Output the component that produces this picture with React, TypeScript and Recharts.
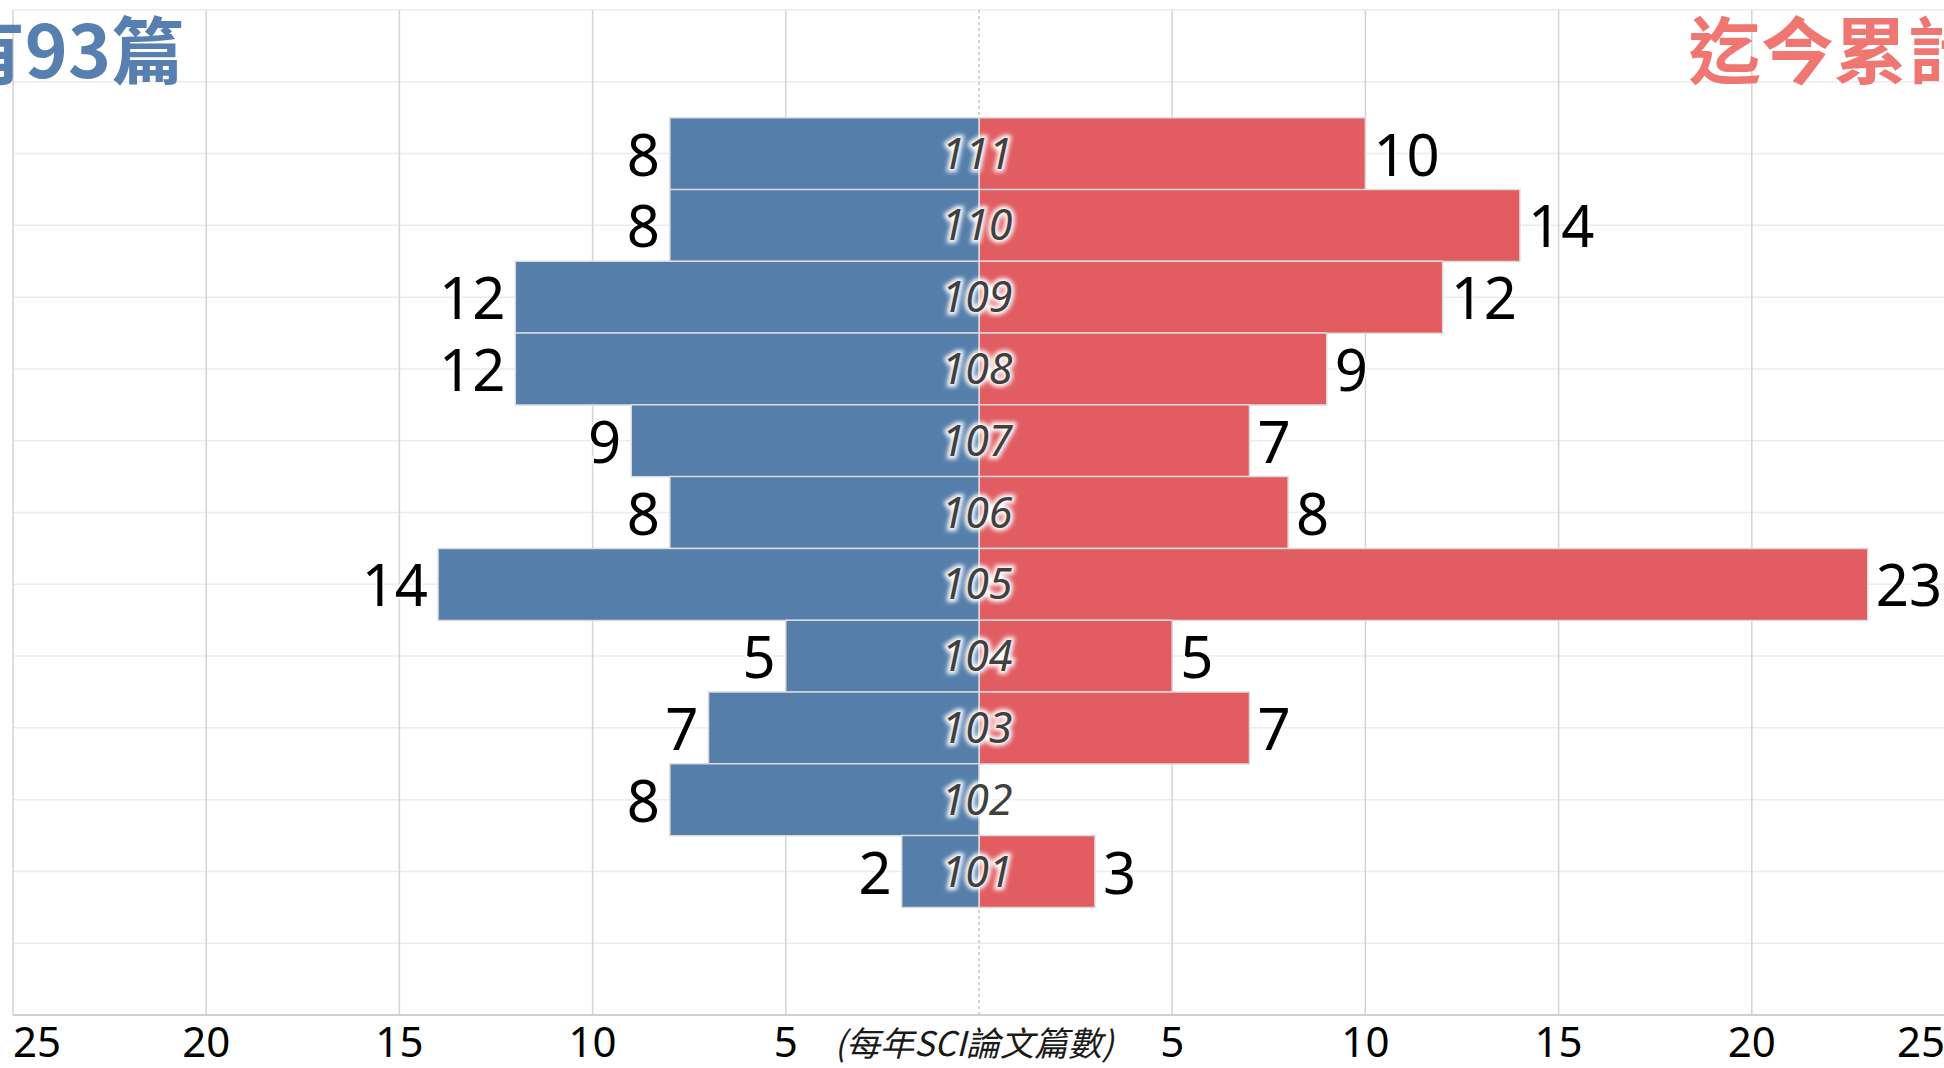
import React from "react";
import { BarChart, Bar, XAxis, YAxis, CartesianGrid, LabelList } from "recharts";

const years = ["111", "110", "109", "108", "107", "106", "105", "104", "103", "102", "101"];
const blueCounts = [8, 8, 12, 12, 9, 8, 14, 5, 7, 8, 2];
const redCounts = [10, 14, 12, 9, 7, 8, 23, 5, 7, 0, 3];
const xTicks = [-25, -20, -15, -10, -5, 0, 5, 10, 15, 20, 25];
const blueTitle = "累計共有93篇";
const redTitle = "迄今累計有98篇";
const axisTitle = "(每年SCI論文篇數)";

const data = years.map((year, i) => ({ year, left: -blueCounts[i], right: redCounts[i] }));

const BLUE = "#557eaa";
const RED = "#e15d62";
const BAND_PAD = 107.7;

const gridX = (vals: number[]) => ({ xAxis, offset }: any) =>
    vals.map((v) =>
        xAxis && typeof xAxis.scale === "function" ? xAxis.scale(v) : offset.left + ((v + 25) / 50) * offset.width
    );

const gridY = ({ offset }: any) => Array.from({ length: 15 }, (_, i) => offset.top + (i * offset.height) / 14);

const BlueValue = (props: any) => {
    const { x, y, width, height, value } = props;
    const left = Math.min(x, x + width);
    return (
        <text x={left - 10} y={y + height / 2 + 22} textAnchor="end" fontSize={58}
            fontFamily="'Noto Sans', 'Open Sans', sans-serif" fill="#000"
            stroke="#fff" strokeWidth={3} paintOrder="stroke">
            {Math.abs(value)}
        </text>
    );
};

const RedValue = (props: any) => {
    const { x, y, width, height, value } = props;
    if (!value) return null;
    const right = Math.max(x, x + width);
    return (
        <text x={right + 8} y={y + height / 2 + 22} textAnchor="start" fontSize={58}
            fontFamily="'Noto Sans', 'Open Sans', sans-serif" fill="#000"
            stroke="#fff" strokeWidth={3} paintOrder="stroke">
            {value}
        </text>
    );
};

// sits on the blue bar; its right end is the zero line
const YearLabel = (props: any) => {
    const { x, y, width, height, value, index } = props;
    const cx = Math.max(x, x + width);
    const cy = y + height / 2 + 15;
    const id = `glow-${index}`;
    return (
        <g>
            <defs>
                <filter id={id} x="-20%" y="-40%" width="140%" height="180%">
                    <feGaussianBlur stdDeviation="2.2" />
                </filter>
            </defs>
            <text x={cx - 2} y={cy} textAnchor="middle" fontSize={43} fontStyle="italic"
                fontFamily="'Noto Sans', 'Open Sans', sans-serif" fill="#fff" stroke="#fff"
                strokeWidth={6} filter={`url(#${id})`}>
                {value}
            </text>
            <text x={cx - 2} y={cy} textAnchor="middle" fontSize={43} fontStyle="italic"
                fontFamily="'Noto Sans', 'Open Sans', sans-serif" fill="#404040">
                {value}
            </text>
        </g>
    );
};

const AxisTick = (props: any) => {
    const { x, y, payload } = props;
    const v = payload.value;
    if (v === 0) {
        return (
            <text x={x - 5} y={y + 41} textAnchor="middle" fontSize={34} fontStyle="italic"
                fontFamily="'Noto Sans CJK TC', 'Noto Sans', sans-serif" fill="#1a1a1a">
                {axisTitle}
            </text>
        );
    }
    const anchor = v === -25 ? "start" : v === 25 ? "end" : "middle";
    return (
        <text x={x} y={y + 42} textAnchor={anchor} fontSize={42}
            fontFamily="'Noto Sans', 'Open Sans', sans-serif" fill="#000">
            {Math.abs(v)}
        </text>
    );
};

const App: React.FC = () => {
    return (
        <div style={{ position: "fixed", left: 0, top: 0, width: 1944, height: 1068, overflow: "hidden", background: "#fff" }}>
            <BarChart
                width={1960}
                height={1068}
                data={data}
                layout="vertical"
                stackOffset="sign"
                barCategoryGap={0}
                margin={{ top: 10, right: 15, bottom: 0, left: 13 }}
            >
                <CartesianGrid vertical={false} stroke="#ececec" strokeWidth={1.5}
                    horizontalCoordinatesGenerator={gridY} />
                <CartesianGrid horizontal={false} stroke="#d4d4d4" strokeWidth={1.5}
                    verticalCoordinatesGenerator={gridX([-25, -20, -15, -10, -5, 5, 10, 15, 20, 25])} />
                <CartesianGrid horizontal={false} stroke="#c8c8c8" strokeWidth={1.5} strokeDasharray="3 3"
                    verticalCoordinatesGenerator={gridX([0])} />
                <XAxis
                    type="number"
                    domain={[-25, 25]}
                    ticks={xTicks}
                    interval={0}
                    height={53}
                    tickLine={false}
                    tickSize={0}
                    tickMargin={0}
                    axisLine={{ stroke: "#d0d0d0", strokeWidth: 2 }}
                    tick={<AxisTick />}
                />
                <YAxis type="category" dataKey="year" hide padding={{ top: BAND_PAD, bottom: BAND_PAD }} />
                <Bar dataKey="right" stackId="s" fill={RED} stroke="#dcdcdc" strokeWidth={1.5} isAnimationActive={false}>
                    <LabelList dataKey="right" content={<RedValue />} />
                </Bar>
                <Bar dataKey="left" stackId="s" fill={BLUE} stroke="#dcdcdc" strokeWidth={1.5} isAnimationActive={false}>
                    <LabelList dataKey="left" content={<BlueValue />} />
                    <LabelList dataKey="year" content={<YearLabel />} />
                </Bar>
            </BarChart>
            <svg width={1944} height={1068} style={{ position: "absolute", left: 0, top: 0, pointerEvents: "none" }}>
                <text x={184} y={78} textAnchor="end" fontSize={73} fontWeight={700}
                    fontFamily="'Noto Sans CJK TC', sans-serif" fill="#5780b0">
                    {blueTitle}
                </text>
                <text x={1688} y={78} textAnchor="start" fontSize={73} fontWeight={700}
                    fontFamily="'Noto Sans CJK TC', sans-serif" fill="#f07672">
                    {redTitle}
                </text>
            </svg>
        </div>
    );
};

export default App;
